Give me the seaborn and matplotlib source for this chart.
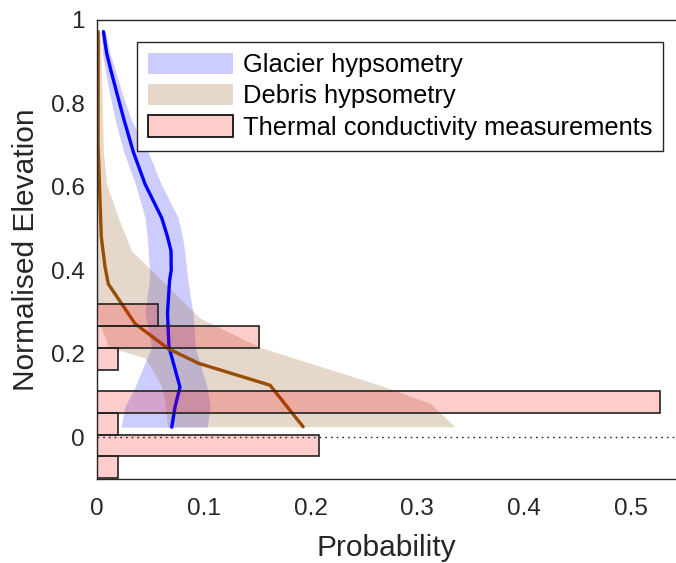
import matplotlib
matplotlib.use('Agg')
import matplotlib.pyplot as plt
from matplotlib.patches import Patch
import seaborn as sns
import pandas as pd

# Glacier hypsometry (mean line + spread)
glacier_elev = [0.971, 0.92, 0.88, 0.82, 0.76, 0.683, 0.606, 0.525, 0.48, 0.446, 0.40, 0.376, 0.297, 0.216, 0.12, 0.072, 0.024]
glacier_prob = [0.006, 0.009, 0.0128, 0.019, 0.0253, 0.034, 0.045, 0.0606, 0.066, 0.0693, 0.0695, 0.068, 0.066, 0.0674, 0.0777, 0.073, 0.070]
glacier_low = [0.004, 0.005, 0.0075, 0.012, 0.017, 0.025, 0.036, 0.045, 0.047, 0.048, 0.049, 0.049, 0.045, 0.051, 0.0355, 0.026, 0.0225]
glacier_high = [0.008, 0.012, 0.017, 0.024, 0.032, 0.048, 0.060, 0.076, 0.080, 0.082, 0.084, 0.085, 0.090, 0.092, 0.103, 0.106, 0.103]

# Debris hypsometry
debris_elev = [0.971, 0.70, 0.48, 0.408, 0.367, 0.272, 0.212, 0.177, 0.1245, 0.025]
debris_prob = [0.001, 0.001, 0.004, 0.0075, 0.0106, 0.0356, 0.0667, 0.095, 0.162, 0.193]
debris_band_elev = [0.971, 0.88, 0.683, 0.606, 0.525, 0.446, 0.367, 0.285, 0.268, 0.2155, 0.19, 0.1245, 0.081, 0.025]
debris_low = [0, 0, 0, 0, 0, 0, 0, 0, 0.003, 0.011, 0.045, 0.06, 0.064, 0.066]
debris_high = [0.003, 0.004, 0.006, 0.009, 0.020, 0.0325, 0.064, 0.0964, 0.11, 0.1526, 0.184, 0.265, 0.312, 0.335]

# Thermal conductivity measurements histogram
bin_edges = [-0.098, -0.046, 0.006, 0.058, 0.110, 0.162, 0.214, 0.266, 0.318]
meas_prob = [0.02, 0.208, 0.02, 0.527, 0.0, 0.02, 0.152, 0.057]

sns.set_style('white')
plt.rcParams['font.family'] = ['Liberation Sans', 'DejaVu Sans']
txt = '#262626'

fig = plt.figure(figsize=(6.76, 5.63), dpi=100)
ax = fig.add_axes([97 / 676, 1 - 479 / 563, 579 / 676, 459.5 / 563])

blue_fill = (0, 0, 1, 0.2)
brown_fill = (0.6, 0.4, 0.2, 0.25)
pink_fill = (1, 0, 0, 0.2)

ax.fill_betweenx(glacier_elev, glacier_low, glacier_high, color=blue_fill, lw=0)
ax.fill_betweenx(debris_band_elev, debris_low, debris_high, color=brown_fill, lw=0)

glacier = pd.DataFrame({'elev': glacier_elev, 'prob': glacier_prob})
debris = pd.DataFrame({'elev': debris_elev, 'prob': debris_prob})
sns.lineplot(data=glacier, x='prob', y='elev', orient='y', sort=False, color='blue', lw=2.4, ax=ax)
sns.lineplot(data=debris, x='prob', y='elev', orient='y', sort=False, color=(0.6, 0.3, 0.0), lw=2.4, ax=ax)

heights = [b - a for a, b in zip(bin_edges[:-1], bin_edges[1:])]
ax.barh(bin_edges[:-1], meas_prob, height=heights, align='edge',
        facecolor=pink_fill, edgecolor='#222222', lw=1.2, zorder=3)

ax.axhline(0, color=txt, ls=(0, (1.2, 2.9)), lw=1.0, zorder=4)

ax.set_xlim(0, 0.5421)
ax.set_ylim(-0.1, 1.0)
ax.set_xticks([0, 0.1, 0.2, 0.3, 0.4, 0.5])
ax.set_xticklabels(['0', '0.1', '0.2', '0.3', '0.4', '0.5'])
ax.set_yticks([0, 0.2, 0.4, 0.6, 0.8, 1.0])
ax.set_yticklabels(['0', '0.2', '0.4', '0.6', '0.8', '1'])
ax.tick_params(direction='in', length=4, width=1, colors=txt, labelsize=17.5)
ax.tick_params(axis='x', pad=13.5)
ax.tick_params(axis='y', pad=9)
for side in ['left', 'bottom', 'top']:
    ax.spines[side].set_color(txt)
    ax.spines[side].set_linewidth(1.0)
ax.spines['right'].set_visible(False)

ax.set_xlabel('Probability', fontsize=21.5, color=txt, labelpad=10)
ax.set_ylabel('Normalised Elevation', fontsize=21.5, color=txt, labelpad=8)

handles = [Patch(facecolor=blue_fill, edgecolor='none'),
           Patch(facecolor=brown_fill, edgecolor='none'),
           Patch(facecolor=pink_fill, edgecolor='k', lw=1.2)]
labels = ['Glacier hypsometry', 'Debris hypsometry', 'Thermal conductivity measurements']
leg = ax.legend(handles, labels, loc='upper right', bbox_to_anchor=(663 / 676, 1 - 42 / 563),
                bbox_transform=fig.transFigure, fontsize=18.4, frameon=True, fancybox=False,
                framealpha=1, edgecolor=txt, handlelength=3.32, handleheight=0.9,
                handletextpad=0.39, labelspacing=0.27, borderpad=0.42, borderaxespad=0)
leg.get_frame().set_linewidth(1.0)
for t in leg.get_texts():
    t.set_color('k')

plt.savefig('out.png', dpi=100)
